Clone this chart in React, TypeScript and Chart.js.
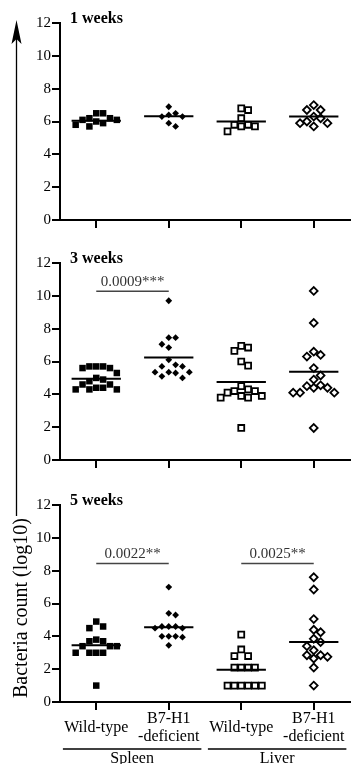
import React, { useEffect, useRef } from 'react';
import { Chart, registerables } from 'chart.js';

Chart.register(...registerables);

// ---------- data ----------
const xLabels: string[][] = [['Wild-type'], ['B7-H1', '-deficient'], ['Wild-type'], ['B7-H1', '-deficient']];
const organs = ['Spleen', 'Liver'];
const yTicks = [0, 2, 4, 6, 8, 10, 12];
const panelTitles = ['1 weeks', '3 weeks', '5 weeks'];
const yAxisTitle = 'Bacteria count (log10)';

// 1 week
const w1SpleenWT = [6.1, 6.2, 5.9, 6.5, 5.7, 6.0, 6.5, 5.8, 6.1, 6.2];
const w1SpleenKO = [6.3, 6.5, 5.7, 6.4, 5.9, 6.9, 6.3];
const w1LiverWT = [5.7, 6.7, 5.8, 5.4, 6.2, 5.7, 6.8, 5.8];
const w1LiverKO = [5.9, 6.7, 6.2, 5.7, 6.3, 6.7, 5.9, 7.0, 6.0];
const w1Means = [6.05, 6.32, 6.0, 6.3];

// 3 weeks
const w3SpleenWT = [5.7, 5.7, 5.6, 5.7, 5.6, 5.3, 5.0, 4.9, 4.8, 4.6, 4.4, 4.3, 4.3, 4.3, 4.4, 4.6];
const w3SpleenKO = [9.7, 7.45, 7.45, 6.85, 7.05, 6.1, 5.8, 5.7, 5.7, 5.35, 5.35, 5.1, 5.0, 5.3, 5.35];
const w3LiverWT = [1.95, 6.95, 6.65, 6.85, 6.0, 5.75, 4.2, 3.9, 4.2, 4.5, 3.8, 4.1, 3.8, 4.3, 3.9];
const w3LiverKO = [10.3, 8.35, 6.4, 6.3, 6.6, 5.6, 5.15, 4.9, 4.5, 4.1, 4.4, 4.1, 4.4, 4.1, 4.55, 1.95];
const w3Means = [4.95, 6.25, 4.75, 5.38];

// 5 weeks
const w5SpleenWT = [1.0, 4.9, 4.6, 4.5, 3.0, 3.4, 3.0, 3.7, 3.8, 3.7, 3.0, 3.4, 3.0, 3.4];
const w5SpleenKO = [7.0, 5.3, 5.4, 4.6, 4.6, 4.5, 4.6, 4.5, 4.0, 3.95, 4.0, 4.0, 3.45];
const w5LiverWT = [4.1, 3.2, 2.8, 2.8, 2.1, 2.1, 2.1, 2.1, 1.0, 1.0, 1.0, 1.0, 1.0, 1.0];
const w5LiverKO = [7.6, 6.85, 5.05, 4.4, 4.25, 3.85, 3.4, 3.65, 3.15, 2.85, 2.75, 2.85, 2.65, 2.1, 1.0];
const w5Means = [3.46, 4.55, 1.97, 3.66];

// significance brackets
const w3SigFrom = [0];
const w3SigTo = [1];
const w3SigY = [10.28];
const w3SigLabels = ['0.0009***'];
const w5SigFrom = [0, 2];
const w5SigTo = [1, 3];
const w5SigY = [8.44, 8.44];
const w5SigLabels = ['0.0022**', '0.0025**'];

// ---------- helpers ----------
const PX_X = 74; // approx px per category unit
const PX_Y = 16.4; // approx px per y unit
const GAP_X = 7; // min horizontal gap in px between neighbours
const GAP_Y = 8; // vertical band in px within which markers must not share x

function swarm(values: number[], idx: number) {
  const order = values.map((_, k) => k).sort((a, b) => values[b] - values[a]);
  const placed: { o: number; v: number }[] = [];
  const res: { x: number; y: number }[] = new Array(values.length);
  for (const k of order) {
    const v = values[k];
    for (let s = 0; s < 400; s++) {
      const offPx = s === 0 ? 0 : (s % 2 ? 1 : -1) * Math.ceil(s / 2) * 0.5;
      const ok = placed.every(
        (p) => Math.abs(p.o - offPx) >= GAP_X || Math.abs((p.v - v) * PX_Y) >= GAP_Y
      );
      if (ok) {
        placed.push({ o: offPx, v });
        res[k] = { x: idx + offPx / PX_X, y: v };
        break;
      }
    }
  }
  return res;
}

const FONT = '"Liberation Serif", "Times New Roman", serif';

const markerStyles = [
  { pointStyle: 'rect', radius: 4.6, bg: '#000', bw: 0 },
  { pointStyle: 'rectRot', radius: 3.4, bg: '#000', bw: 0 },
  { pointStyle: 'rect', radius: 4.2, bg: '#fff', bw: 1.8 },
  { pointStyle: 'rectRot', radius: 3.9, bg: '#fff', bw: 1.8 },
];

type PanelProps = {
  top: number;
  height: number;
  padTop: number;
  xHeight: number;
  title: string;
  groups: number[][];
  means: number[];
  sigFrom: number[];
  sigTo: number[];
  sigY: number[];
  sigLabels: string[];
  showLabels: boolean;
};

function Panel(props: PanelProps) {
  const ref = useRef<HTMLCanvasElement | null>(null);
  useEffect(() => {
    const p = props;
    const datasets: any[] = [];
    p.means.forEach((m, i) => {
      datasets.push({
        type: 'scatter',
        data: [
          { x: i - 0.34, y: m },
          { x: i + 0.34, y: m },
        ],
        showLine: true,
        borderColor: '#000',
        borderWidth: 2,
        pointRadius: 0,
      });
    });
    p.sigLabels.forEach((_, i) => {
      datasets.push({
        type: 'scatter',
        data: [
          { x: p.sigFrom[i], y: p.sigY[i] },
          { x: p.sigTo[i], y: p.sigY[i] },
        ],
        showLine: true,
        borderColor: '#444',
        borderWidth: 1.4,
        pointRadius: 0,
      });
    });
    p.groups.forEach((vals, i) => {
      const s = markerStyles[i];
      datasets.push({
        type: 'scatter',
        data: swarm(vals, i),
        pointStyle: s.pointStyle,
        pointRadius: s.radius,
        pointBackgroundColor: s.bg,
        pointBorderColor: '#000',
        pointBorderWidth: s.bw,
      });
    });

    const textPlugin = {
      id: 'panelText',
      afterDraw(chart: any) {
        const { ctx, chartArea, scales } = chart;
        const x = scales.x;
        const y = scales.y;
        ctx.save();
        ctx.fillStyle = '#000';
        ctx.font = `bold 16px ${FONT}`;
        ctx.textAlign = 'left';
        ctx.textBaseline = 'alphabetic';
        ctx.fillText(p.title, chartArea.left + 10, chartArea.top);

        ctx.font = `15px ${FONT}`;
        ctx.fillStyle = '#333';
        ctx.textAlign = 'center';
        p.sigLabels.forEach((lab, i) => {
          const cx = (x.getPixelForValue(p.sigFrom[i]) + x.getPixelForValue(p.sigTo[i])) / 2;
          ctx.fillText(lab, cx, y.getPixelForValue(p.sigY[i]) - 5);
        });

        if (p.showLabels) {
          ctx.fillStyle = '#000';
          ctx.font = `16px ${FONT}`;
          const bottom = chartArea.bottom;
          xLabels.forEach((lines, i) => {
            const cx = x.getPixelForValue(i);
            if (lines.length === 1) {
              ctx.fillText(lines[0], cx, bottom + 30);
            } else {
              ctx.fillText(lines[0], cx, bottom + 21);
              ctx.fillText(lines[1], cx, bottom + 39);
            }
          });
          ctx.strokeStyle = '#000';
          ctx.lineWidth = 1.3;
          organs.forEach((org, g) => {
            const a = g * 2;
            const b = g * 2 + 1;
            const x1 = x.getPixelForValue(a - 0.46);
            const x2 = Math.min(x.getPixelForValue(b + 0.45), chart.width);
            ctx.beginPath();
            ctx.moveTo(x1, bottom + 47);
            ctx.lineTo(x2, bottom + 47);
            ctx.stroke();
            ctx.fillText(org, (x1 + x2) / 2, bottom + 61);
          });
        }
        ctx.restore();
      },
    };

    const chart = new Chart(ref.current as HTMLCanvasElement, {
      type: 'scatter',
      data: { datasets },
      options: {
        responsive: false,
        animation: false,
        devicePixelRatio: 1,
        events: [],
        layout: { padding: { top: p.padTop, left: 0, right: 0, bottom: 0 } },
        plugins: { legend: { display: false }, tooltip: { enabled: false } },
        scales: {
          x: {
            type: 'linear',
            min: -0.5,
            max: 3.5,
            afterBuildTicks: (scale: any) => {
              scale.ticks = xLabels.map((_, i) => ({ value: i }));
            },
            afterFit: (scale: any) => {
              scale.height = p.xHeight;
            },
            ticks: { display: false },
            grid: { drawOnChartArea: false, drawTicks: true, tickLength: 8, color: '#000', lineWidth: 2 },
            border: { display: true, color: '#000', width: 2 },
          },
          y: {
            type: 'linear',
            min: 0,
            max: 12,
            afterBuildTicks: (scale: any) => {
              scale.ticks = yTicks.map((v) => ({ value: v }));
            },
            afterFit: (scale: any) => {
              scale.width = 60;
            },
            ticks: {
              color: '#000',
              padding: 1,
              font: { family: '"Liberation Serif"', size: 15 },
              callback: (v: any) => String(v),
            },
            grid: { drawOnChartArea: false, drawTicks: true, tickLength: 8, color: '#000', lineWidth: 2 },
            border: { display: true, color: '#000', width: 2 },
          },
        },
      } as any,
      plugins: [textPlugin as any],
    });
    return () => chart.destroy();
  }, []);
  return (
    <canvas
      ref={ref}
      width={356}
      height={props.height}
      style={{ position: 'absolute', left: 0, top: props.top, width: 356, height: props.height }}
    />
  );
}

export default function App() {
  return (
    <div style={{ position: 'fixed', left: 0, top: 0, width: 356, height: 764, background: '#fff', overflow: 'hidden' }}>
      <Panel
        top={0}
        height={240}
        padTop={23}
        xHeight={20}
        title={panelTitles[0]}
        groups={[w1SpleenWT, w1SpleenKO, w1LiverWT, w1LiverKO]}
        means={w1Means}
        sigFrom={[]}
        sigTo={[]}
        sigY={[]}
        sigLabels={[]}
        showLabels={false}
      />
      <Panel
        top={240}
        height={240}
        padTop={23}
        xHeight={20}
        title={panelTitles[1]}
        groups={[w3SpleenWT, w3SpleenKO, w3LiverWT, w3LiverKO]}
        means={w3Means}
        sigFrom={w3SigFrom}
        sigTo={w3SigTo}
        sigY={w3SigY}
        sigLabels={w3SigLabels}
        showLabels={false}
      />
      <Panel
        top={480}
        height={284}
        padTop={25}
        xHeight={62}
        title={panelTitles[2]}
        groups={[w5SpleenWT, w5SpleenKO, w5LiverWT, w5LiverKO]}
        means={w5Means}
        sigFrom={w5SigFrom}
        sigTo={w5SigTo}
        sigY={w5SigY}
        sigLabels={w5SigLabels}
        showLabels={true}
      />
      <svg width={40} height={764} style={{ position: 'absolute', left: 0, top: 0 }}>
        <line x1={16.5} y1={38} x2={16.5} y2={516} stroke="#000" strokeWidth={1.3} />
        <polygon points="16.5,20 21.5,44 16.5,39 11.5,44" fill="#000" />
        <text
          transform="translate(27,608) rotate(-90)"
          textAnchor="middle"
          fontFamily="Liberation Serif"
          fontSize={20}
          fill="#000"
        >
          {yAxisTitle}
        </text>
      </svg>
    </div>
  );
}
